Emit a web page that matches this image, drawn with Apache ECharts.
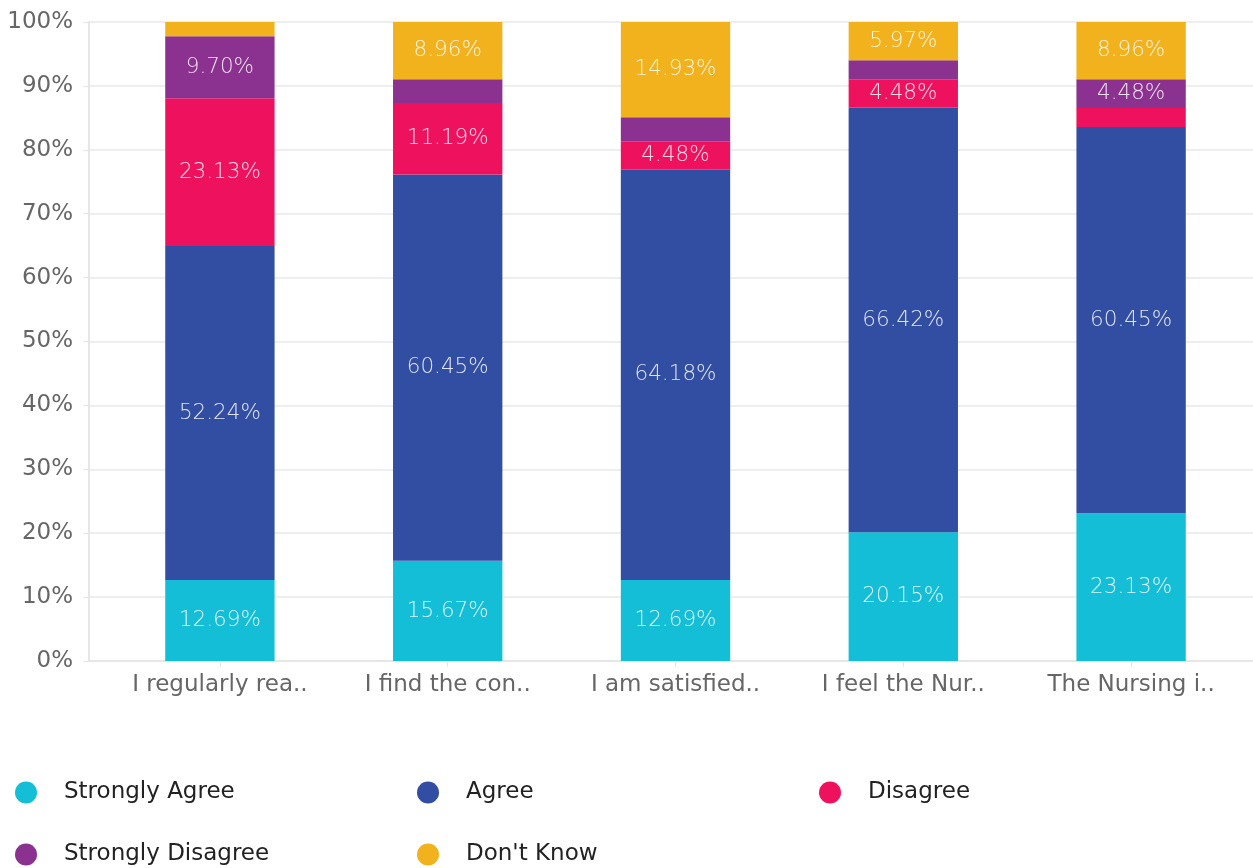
<!DOCTYPE html>
<html>
<head>
<meta charset="utf-8">
<script src="https://cdn.jsdelivr.net/npm/echarts@6/dist/echarts.min.js"></script>
<style>html,body{margin:0;padding:0;background:#fff}#c{width:1253px;height:868px}</style>
</head>
<body>
<div id="c"></div>
<script>
var categories = ["I regularly rea..", "I find the con..", "I am satisfied..", "I feel the Nur..", "The Nursing i.."];
var stronglyAgree    = [12.69, 15.67, 12.69, 20.15, 23.13];
var agree            = [52.24, 60.45, 64.18, 66.42, 60.45];
var disagree         = [23.13, 11.19, 4.48, 4.48, 2.98];
var stronglyDisagree = [9.70, 3.73, 3.73, 2.98, 4.48];
var dontKnow         = [2.24, 8.96, 14.93, 5.97, 8.96];
var seriesNames = ["Strongly Agree", "Agree", "Disagree", "Strongly Disagree", "Don't Know"];
var seriesColors = ["#13BED6", "#314EA2", "#EE125E", "#8B318F", "#F1B21E"];
var yTicks = [0, 10, 20, 30, 40, 50, 60, 70, 80, 90, 100];

var font = "'DejaVu Sans', sans-serif";
var chart = echarts.init(document.getElementById('c'));
var allData = [stronglyAgree, agree, disagree, stronglyDisagree, dontKnow];

var series = allData.map(function (d, i) {
  return {
    name: seriesNames[i],
    type: 'bar',
    stack: 'total',
    xAxisIndex: 1,
    yAxisIndex: 1,
    barWidth: '48%',
    data: d,
    itemStyle: { color: seriesColors[i] },
    label: {
      show: true,
      position: 'inside',
      fontFamily: font,
      fontSize: 21.5,
      fontWeight: 200,
      color: 'rgba(255,255,255,0.85)',
      formatter: function (p) { return p.value >= 4 ? p.value.toFixed(2) + '%' : ''; }
    }
  };
});
series.push({ type: 'bar', xAxisIndex: 0, yAxisIndex: 0, data: [], silent: true });

var legendPos = [[15, 781], [417, 781], [819, 781], [15, 843], [417, 843]];
var legends = seriesNames.map(function (n, i) {
  return {
    data: [n],
    left: legendPos[i][0],
    top: legendPos[i][1],
    icon: 'circle',
    itemWidth: 22,
    itemHeight: 22,
    padding: 0,
    textStyle: { fontFamily: font, fontSize: 23, color: '#222', padding: [0, 0, 0, 22] }
  };
});

chart.setOption({
  animation: false,
  backgroundColor: '#fff',
  legend: legends,
  grid: [
    { left: 89, right: 0, top: 22, bottom: 207 },
    { left: 106, right: 8, top: 22, bottom: 207 }
  ],
  xAxis: [
    { type: 'category', gridIndex: 0, data: [''],
      axisLine: { show: true, lineStyle: { color: '#e6e6e6', width: 2 } },
      axisTick: { show: false }, axisLabel: { show: false }, splitLine: { show: false } },
    { type: 'category', gridIndex: 1, data: categories,
      axisLine: { show: false },
      axisTick: { show: true, alignWithLabel: true, length: 6, lineStyle: { color: '#e6e6e6' } },
      axisLabel: { fontFamily: font, fontSize: 23, color: '#666', margin: 13, interval: 0, hideOverlap: false } }
  ],
  yAxis: [
    { type: 'value', gridIndex: 0, min: 0, max: 100, interval: 10,
      axisLine: { show: true, lineStyle: { color: '#e6e6e6', width: 2 } },
      axisTick: { show: true, length: 6, lineStyle: { color: '#e6e6e6' } },
      splitLine: { show: true, lineStyle: { color: '#eeeeee', width: 2 } },
      axisLabel: { fontFamily: font, fontSize: 23, color: '#666', margin: 16, padding: [4, 0, 0, 0],
        formatter: function (v) { return yTicks.indexOf(v) >= 0 ? v + '%' : ''; } } },
    { type: 'value', gridIndex: 1, min: 0, max: 100, interval: 10, show: false,
      splitLine: { show: false } }
  ],
  series: series
});
</script>
</body>
</html>
